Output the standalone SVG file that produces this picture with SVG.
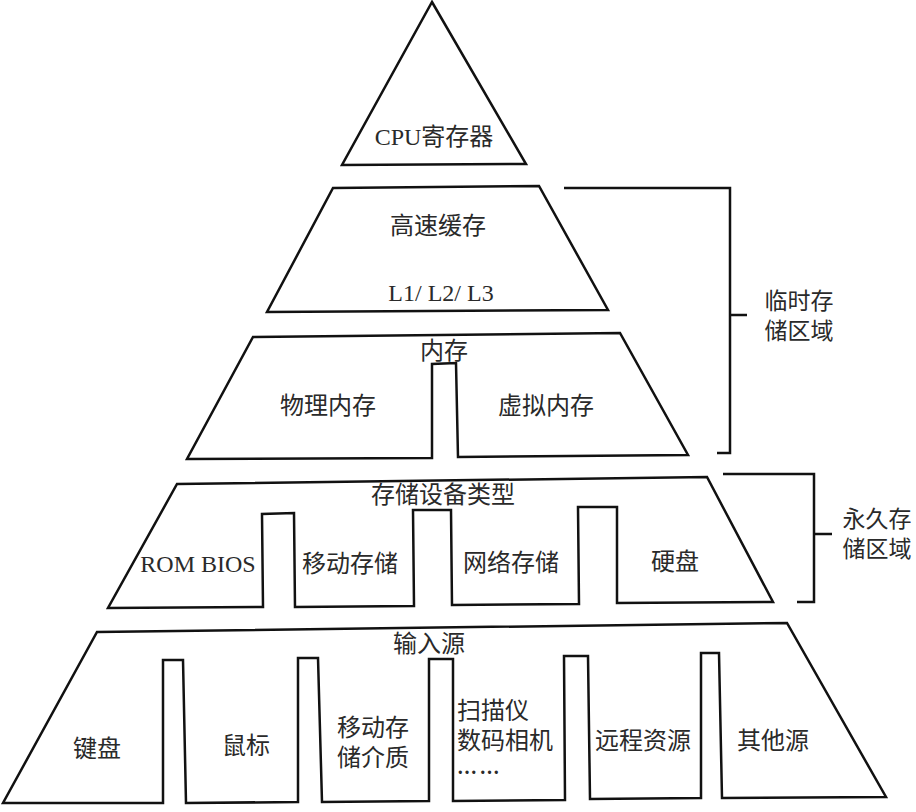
<svg xmlns="http://www.w3.org/2000/svg" width="916" height="812" viewBox="0 0 916 812">
<style>
.shape{fill:#fff;stroke:#111;stroke-width:2.5;stroke-linejoin:miter}
.br{fill:none;stroke:#111;stroke-width:2.5}
text{font-family:"Liberation Serif","Noto Sans CJK SC",serif;font-size:24px;fill:#2a2a2a;text-anchor:middle}
.l{text-anchor:start}
.side{font-size:23px}
.dots{font-size:20px;letter-spacing:2.5px;font-weight:bold}
</style>
<rect width="916" height="812" fill="#fff"/>
<g id="cpu">
<path class="shape" d="M432,2 L526,164 L342,165 Z"/>
<text x="434" y="145">CPU寄存器</text>
</g>
<g id="cache">
<path class="shape" d="M333,188 L539,186 L608,310 L267,312 Z"/>
<text x="438" y="234">高速缓存</text>
<text x="441" y="301">L1/ L2/ L3</text>
</g>
<g id="memory">
<path class="shape" d="M253,337 L620,333 L688,455 L458,457 L456,363 L432,364 L432,458 L187,459 Z"/>
<text x="444" y="359">内存</text>
<text x="328" y="414">物理内存</text>
<text x="546" y="414">虚拟内存</text>
</g>
<g id="storage">
<path class="shape" d="M177,484 L707,477 L773,602 L617,603 L617,507 L578,507 L579,604 L452,605 L451,510 L413,510 L414,606 L295,607 L294,513 L262,514 L263,607 L108,608 Z"/>
<text x="443" y="503">存储设备类型</text>
<text x="198" y="572">ROM BIOS</text>
<text x="350" y="572">移动存储</text>
<text x="511" y="571">网络存储</text>
<text x="675" y="570">硬盘</text>
</g>
<g id="input">
<path class="shape" d="M97,632 L787,623 L886,797 L722,798 L719,653 L701,653 L701,798 L590,799 L588,656 L564,656 L565,800 L453,801 L453,659 L429,659 L429,801 L322,802 L318,658 L298,658 L298,802 L186,803 L183,660 L163,660 L163,803 L3,803 Z"/>
<text x="429" y="652">输入源</text>
<text x="97" y="757">键盘</text>
<text x="246" y="754">鼠标</text>
<text x="373" y="736">移动存</text>
<text x="373" y="766">储介质</text>
<text class="l" x="457" y="719">扫描仪</text>
<text class="l" x="457" y="749">数码相机</text>
<text class="l dots" x="457" y="774">……</text>
<text x="643" y="749">远程资源</text>
<text x="773" y="749">其他源</text>
</g>
<g id="connectors">
<path class="br" d="M564,188 L730,188 L730,453 L717,453 M730,315 L747,315"/>
<path class="br" d="M723,474 L814,474 L814,602 L797,602 M814,534 L832,534"/>
</g>
<g id="temp-label">
<text class="side" x="799" y="309">临时存</text>
<text class="side" x="799" y="339">储区域</text>
</g>
<g id="perm-label">
<text class="side" x="877" y="527">永久存</text>
<text class="side" x="877" y="557">储区域</text>
</g>
</svg>
